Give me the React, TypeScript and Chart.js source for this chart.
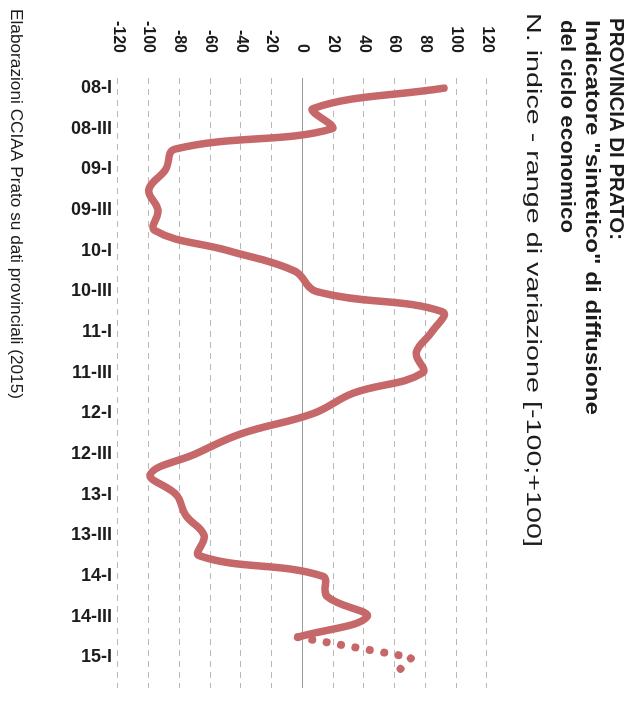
import React, { useEffect, useRef } from "react";
import { Chart, registerables } from "chart.js";

Chart.register(...registerables);

const quarters = [
  "08-I", "08-II", "08-III", "08-IV",
  "09-I", "09-II", "09-III", "09-IV",
  "10-I", "10-II", "10-III", "10-IV",
  "11-I", "11-II", "11-III", "11-IV",
  "12-I", "12-II", "12-III", "12-IV",
  "13-I", "13-II", "13-III", "13-IV",
  "14-I", "14-II", "14-III", "14-IV",
  "15-I", "15-II",
];

const syntheticIndex: (number | null)[] = [
  92, 7, 19, -83,
  -89, -100, -94, -96,
  -48, -5, 9, 91,
  84, 74, 78, 33,
  7, -40, -70, -99,
  -82, -76, -64, -67,
  13, 16, 42, -3,
  null, null,
];

const forecastIndex: (number | null)[] = [
  null, null, null, null,
  null, null, null, null,
  null, null, null, null,
  null, null, null, null,
  null, null, null, null,
  null, null, null, null,
  null, null, null, -3,
  71, 58,
];

const valueTicks = [-120, -100, -80, -60, -40, -20, 0, 20, 40, 60, 80, 100, 120];

const titleLines = [
  "PROVINCIA DI PRATO:",
  "Indicatore \"sintetico\" di diffusione",
  "del ciclo economico",
];
const subtitleText = "N. indice - range di variazione [-100;+100]";
const sourceText = "Elaborazioni CCIAA Prato su dati provinciali (2015)";

const FONT = "'Liberation Sans', Arial, sans-serif";
const LINE_COLOR = "#c6686a";
const TEXT_COLOR = "#1c1c1c";

function fitText(ctx: CanvasRenderingContext2D, text: string, x: number, y: number, width: number) {
  const w = ctx.measureText(text).width;
  ctx.save();
  ctx.translate(x, y);
  ctx.scale(width / w, 1);
  ctx.fillText(text, 0, 0);
  ctx.restore();
}

const textPlugin = {
  id: "staticTexts",
  afterDraw(chart: any) {
    const ctx = chart.ctx as CanvasRenderingContext2D;
    ctx.save();
    ctx.fillStyle = TEXT_COLOR;
    ctx.textAlign = "left";
    ctx.textBaseline = "middle";
    ctx.font = `bold 20px ${FONT}`;
    fitText(ctx, titleLines[0], 18, 14, 222);
    fitText(ctx, titleLines[1], 20, 38.5, 395);
    fitText(ctx, titleLines[2], 20, 63, 213);
    ctx.font = `21px ${FONT}`;
    fitText(ctx, subtitleText, 13, 97, 534);
    ctx.font = `16px ${FONT}`;
    fitText(ctx, sourceText, 9, 615, 390);
    ctx.restore();
  },
};

export default function App() {
  const ref = useRef<HTMLCanvasElement>(null);

  useEffect(() => {
    document.body.style.margin = "0";
    document.documentElement.style.overflow = "hidden";
    const canvas = ref.current;
    if (!canvas) return;
    const chart = new Chart(canvas, {
      type: "line",
      data: {
        labels: quarters,
        datasets: [
          {
            data: syntheticIndex,
            borderColor: LINE_COLOR,
            borderWidth: 7.5,
            tension: 0.4,
            pointRadius: 0,
            fill: false,
            borderCapStyle: "round",
            borderJoinStyle: "round",
            spanGaps: false,
          },
          {
            data: forecastIndex,
            borderColor: LINE_COLOR,
            borderWidth: 8,
            borderDash: [0.01, 14.6],
            borderCapStyle: "round",
            tension: 0,
            pointRadius: 0,
            fill: false,
          },
        ],
      },
      options: {
        animation: false,
        responsive: false,
        devicePixelRatio: 1,
        layout: { padding: { top: 143, left: 0, right: 32, bottom: 0 } },
        plugins: {
          legend: { display: false },
          tooltip: { enabled: false },
          title: { display: false },
        },
        scales: {
          x: {
            type: "category",
            offset: true,
            grid: { display: false, drawTicks: false },
            border: { display: false },
            ticks: {
              autoSkip: false,
              minRotation: 90,
              maxRotation: 90,
              padding: 6,
              color: TEXT_COLOR,
              font: { family: FONT, size: 18, weight: "bold" },
              callback: (_v: any, i: number) => (i % 2 === 0 ? quarters[i] : ""),
            },
            afterFit: (s: any) => {
              s.height = 118;
            },
          },
          y: {
            min: valueTicks[0],
            max: valueTicks[valueTicks.length - 1],
            afterBuildTicks: (s: any) => {
              s.ticks = valueTicks.map((v) => ({ value: v }));
            },
            grid: {
              drawTicks: false,
              lineWidth: 1,
              color: (c: any) => (c.tick && c.tick.value === 0 ? "#9a9a9a" : "#b8b8b8"),
            },
            border: {
              display: false,
              dash: (c: any) => (c.tick && c.tick.value === 0 ? [] : [6, 5]),
            },
            ticks: {
              padding: 25,
              color: TEXT_COLOR,
              font: { family: FONT, size: 16, weight: "bold" },
            },
            afterFit: (s: any) => {
              s.width = 78;
            },
          },
        },
      },
      plugins: [textPlugin],
    } as any);
    return () => chart.destroy();
  }, []);

  return (
    <div
      style={{
        position: "absolute",
        left: 0,
        top: 0,
        width: 720,
        height: 630,
        transformOrigin: "0 0",
        transform: "translateX(630px) rotate(90deg)",
        background: "#ffffff",
      }}
    >
      <canvas ref={ref} width={720} height={630} style={{ width: 720, height: 630, display: "block" }} />
    </div>
  );
}
